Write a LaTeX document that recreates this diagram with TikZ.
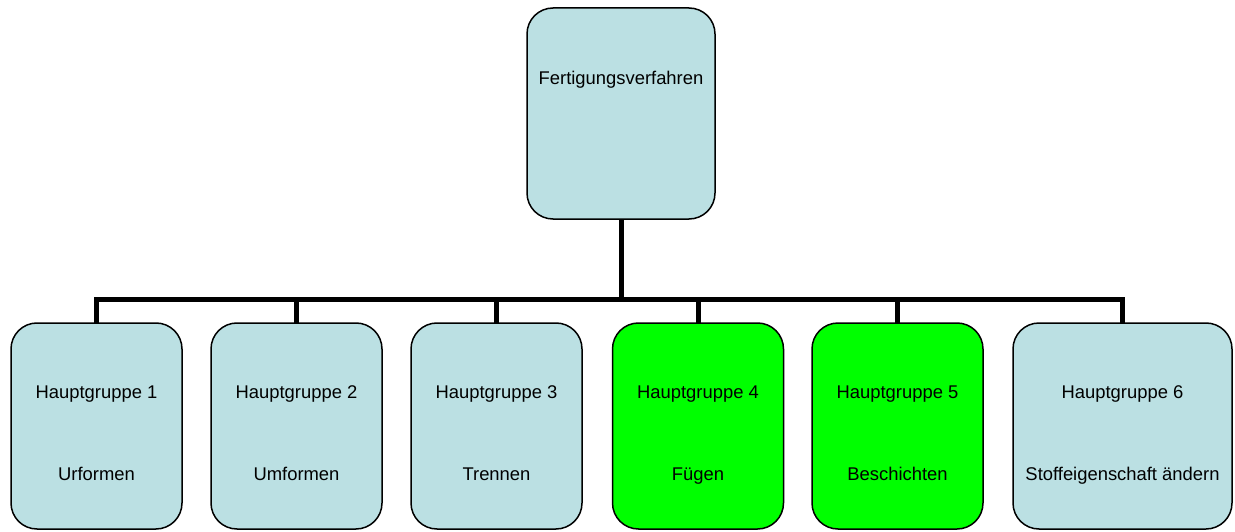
\documentclass[tikz,border=0pt]{standalone}
\usepackage{fontspec}
\usetikzlibrary{backgrounds}
\setmainfont{Liberation Sans}
\definecolor{boxblue}{HTML}{BBE0E3}
\definecolor{boxgreen}{HTML}{00FF00}
\tikzset{
  x=1pt, y=-1pt,
  group/.style={draw=black, line width=1.5pt, rounded corners=26pt, inner sep=0pt,
                minimum width=171pt, minimum height=206pt},
  lbl/.style={anchor=base, inner sep=0pt, font=\fontsize{18.4}{22}\selectfont},
  wire/.style={line width=5pt, line cap=rect, line join=miter},
}
\begin{document}
\begin{tikzpicture}
\useasboundingbox (0,0) rectangle (1235,532);

% root box
\node[group, fill=boxblue, minimum width=188pt, minimum height=211pt] (root) at (621,113.5) {};
\node[lbl] (rootlbl) at (621,85) {Fertigungsverfahren};

% main groups
\node[group, fill=boxblue]  (g1) at (96.5,426) {};
\node[group, fill=boxblue]  (g2) at (296.5,426) {};
\node[group, fill=boxblue]  (g3) at (496.5,426) {};
\node[group, fill=boxgreen] (g4) at (698,426) {};
\node[group, fill=boxgreen] (g5) at (897.5,426) {};
\node[group, fill=boxblue, minimum width=219pt] (g6) at (1122.5,426) {};

\node[lbl] (t1a) at (96.5,398) {Hauptgruppe 1};
\node[lbl] (t1b) at (96.5,480) {Urformen};
\node[lbl] (t2a) at (296.5,398) {Hauptgruppe 2};
\node[lbl] (t2b) at (296.5,480) {Umformen};
\node[lbl] (t3a) at (496.5,398) {Hauptgruppe 3};
\node[lbl] (t3b) at (496.5,480) {Trennen};
\node[lbl] (t4a) at (698,398) {Hauptgruppe 4};
\node[lbl] (t4b) at (698,480) {Fügen};
\node[lbl] (t5a) at (897.5,398) {Hauptgruppe 5};
\node[lbl] (t5b) at (897.5,480) {Beschichten};
\node[lbl] (t6a) at (1122.5,398) {Hauptgruppe 6};
\node[lbl] (t6b) at (1122.5,480) {Stoffeigenschaft ändern};

% connectors, behind the boxes
\coordinate (bus) at (621,299.5);
\begin{scope}[on background layer]
\draw[wire] (root.south) -- (bus);
\draw[wire] (g1.north) -- (g1.north |- bus) -- (g6.north |- bus) -- (g6.north);
\foreach \g in {g2,g3,g4,g5}
  \draw[wire] (\g.north) -- (\g.north |- bus);
\end{scope}
\end{tikzpicture}
\end{document}
